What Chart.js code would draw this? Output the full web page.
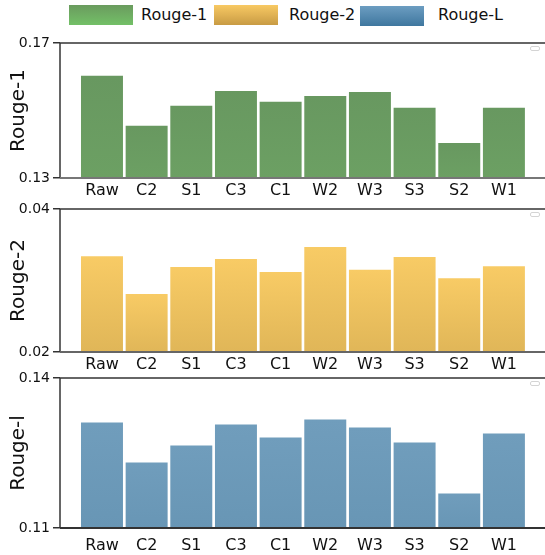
<!DOCTYPE html>
<html>
<head>
<meta charset="utf-8">
<script src="https://cdn.jsdelivr.net/npm/chart.js@4.4.1/dist/chart.umd.min.js"></script>
<style>
  html,body{margin:0;padding:0;background:#fff;}
  body{width:545px;height:555px;position:relative;overflow:hidden;font-family:"DejaVu Sans",sans-serif;}
  .wrap{position:absolute;left:0;width:545px;}
  .legend{position:absolute;top:0;left:0;width:545px;height:32px;}
  .sw{position:absolute;top:5px;width:64px;height:20px;}
  .lt{position:absolute;top:4px;font-size:16px;color:#111;line-height:22px;}
  .emptyLeg{position:absolute;left:530px;width:8px;height:3px;border:1px solid #d4d4d4;border-radius:2px;background:#fff;z-index:5;}
</style>
</head>
<body>
<div class="legend">
  <div class="sw" style="left:69px;background:linear-gradient(#6a9b5e,#73c067);"></div>
  <div class="lt" style="left:141px;">Rouge-1</div>
  <div class="sw" style="left:214px;background:linear-gradient(#f8c963,#c89b44);"></div>
  <div class="lt" style="left:289px;">Rouge-2</div>
  <div class="sw" style="left:360px;top:6px;background:linear-gradient(#6c9dc1,#3f779f);"></div>
  <div class="lt" style="left:438px;">Rouge-L</div>
</div>
<div class="wrap" style="top:0;height:205px;"><canvas id="c1" width="545" height="205"></canvas></div>
<div class="wrap" style="top:170px;height:210px;"><canvas id="c2" width="545" height="210"></canvas></div>
<div class="wrap" style="top:340px;height:215px;"><canvas id="c3" width="545" height="215"></canvas></div>
<div class="emptyLeg" style="top:46px;"></div>
<div class="emptyLeg" style="top:212px;"></div>
<div class="emptyLeg" style="top:381px;"></div>
<script>
const categories = ["Raw","C2","S1","C3","C1","W2","W3","S3","S2","W1"];
const rouge1 = [0.1603,0.1455,0.1514,0.1558,0.1526,0.1543,0.1555,0.1508,0.1404,0.1508];
const rouge2 = [0.0334,0.0281,0.0319,0.0330,0.0312,0.0347,0.0315,0.0333,0.0303,0.0320];
const rougeL = [0.1311,0.1231,0.1265,0.1307,0.1281,0.1317,0.1301,0.1271,0.1169,0.1289];
const yTicks1 = [0.13,0.17];
const yTicks2 = [0.02,0.04];
const yTicksL = [0.11,0.14];

const FONT = "DejaVu Sans";

const spines = {
  id:'spines',
  afterDraw(chart, args, opts){
    const a = chart.chartArea, c = chart.ctx;
    c.save();
    c.lineWidth = 1.5;
    c.strokeStyle = '#333';
    c.beginPath(); c.moveTo(a.left, a.top); c.lineTo(a.right, a.top); c.stroke();
    c.beginPath(); c.moveTo(a.left, a.top); c.lineTo(a.left, a.bottom); c.stroke();
    c.strokeStyle = opts.bottomColor || '#555';
    c.lineWidth = 2;
    c.beginPath(); c.moveTo(a.left, a.bottom); c.lineTo(a.right, a.bottom); c.stroke();
    c.restore();
  }
};

function makeChart(id, values, ticks, title, topColor, botColor, padTop, xH, xPad, bottomColor){
  const ctxEl = document.getElementById(id);
  return new Chart(ctxEl, {
    type:'bar',
    data:{
      datasets:[{
        label:title,
        data: values.map((v,i)=>({x:i,y:v})),
        backgroundColor:(ctx)=>{
          const ch = ctx.chart;
          const a = ch.chartArea;
          if(!a || !ctx.raw || !ch.scales.y) return topColor;
          const yTop = ch.scales.y.getPixelForValue(ctx.raw.y);
          const g = ch.ctx.createLinearGradient(0, yTop, 0, a.bottom);
          g.addColorStop(0, topColor);
          g.addColorStop(1, botColor);
          return g;
        },
        borderWidth:0,
        categoryPercentage:1,
        barPercentage:0.94
      }]
    },
    options:{
      responsive:false,
      animation:false,
      layout:{padding:{top:padTop,left:0,right:0,bottom:0}},
      plugins:{legend:{display:false},tooltip:{enabled:false},spines:{bottomColor}},
      scales:{
        x:{
          type:'linear',
          offset:false,
          min:-0.94, max:9.92,
          grid:{display:false,drawTicks:false,offset:false},
          border:{display:false},
          afterBuildTicks:(s)=>{ s.ticks = categories.map((c,i)=>({value:i})); },
          afterFit:(s)=>{ s.height = xH; },
          ticks:{
            autoSkip:false, maxRotation:0, padding:xPad,
            color:'#111',
            font:{family:FONT,size:16},
            callback:(v)=>categories[v]
          }
        },
        y:{
          min:ticks[0], max:ticks[1],
          grid:{display:true,drawOnChartArea:false,drawTicks:true,tickLength:7,color:'#333',lineWidth:1.5},
          border:{display:false},
          afterBuildTicks:(s)=>{ s.ticks = ticks.map(v=>({value:v})); },
          afterFit:(s)=>{ s.width = 60; },
          ticks:{
            padding:3,color:'#111',
            font:{family:FONT,size:14},
            callback:(v)=>Number(v).toFixed(2)
          },
          title:{display:true,text:title,color:'#111',font:{family:FONT,size:20},padding:{top:7,bottom:0}}
        }
      }
    },
    plugins:[spines]
  });
}

makeChart('c1', rouge1, yTicks1, 'Rouge-1', '#689860', '#6ca063', 43, 27, 3, '#777');
makeChart('c2', rouge2, yTicks2, 'Rouge-2', '#f8cb65', '#e0b658', 39, 28, 3, '#666');
makeChart('c3', rougeL, yTicksL, 'Rouge-l', '#709dbc', '#6896b5', 38, 27, 8, '#333');
</script>
</body>
</html>
